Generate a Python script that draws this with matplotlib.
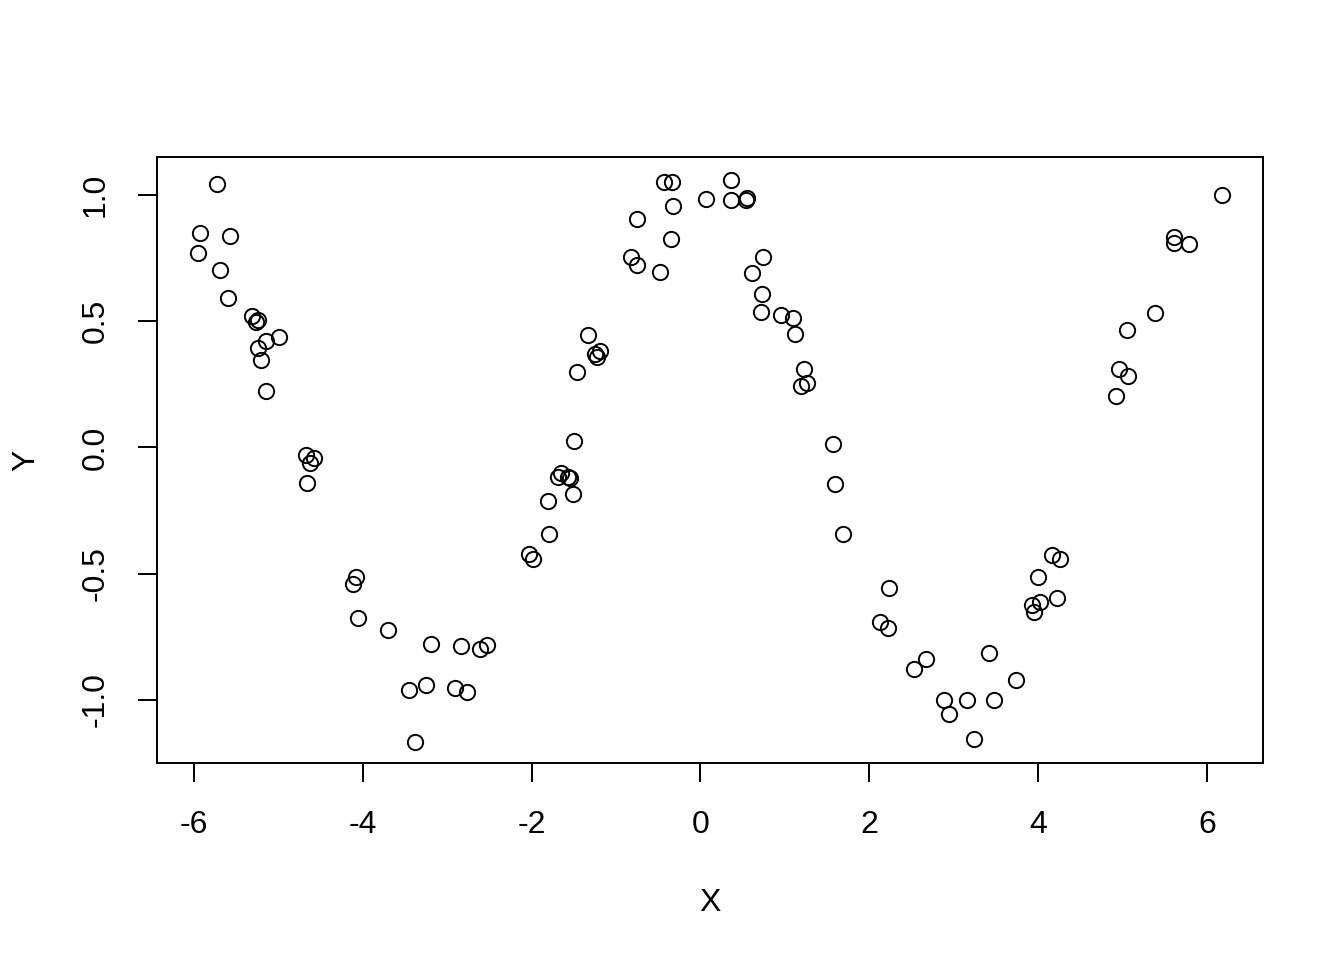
import numpy as np
import matplotlib
matplotlib.use("Agg")
import matplotlib.pyplot as plt

plt.rcParams['font.family'] = ['Liberation Sans', 'DejaVu Sans']

# points
x_vals = [-5.727, -5.929, -5.573, -5.952, -5.692, -5.597, -5.313, -5.265, -5.242,
          -4.992, -5.147, -5.242, -5.206, -5.147, -4.673, -4.578, -4.626, -4.661,
          -4.081, -4.117, -4.057, -3.702, -3.192, -2.837, -2.612, -2.529, -3.453,
          -3.252, -2.908, -2.766, -3.382, -2.032, -1.984, -1.795, -1.806, -1.510,
          -1.652, -1.688, -1.570, -1.546, -1.498, -1.463, -1.333, -1.250, -1.190,
          -1.226, -0.823, -0.752, -0.752, -0.480, -0.432, -0.338, -0.326, -0.349,
          0.065, 0.361, 0.361, 0.551, 0.539, 0.735, 0.610, 0.729, 0.717, 0.954,
          1.096, 1.119, 1.226, 1.262, 1.190, 1.570, 1.593, 1.688, 2.126, 2.233,
          2.221, 2.671, 2.529, 2.884, 2.944, 3.157, 3.240, 3.477, 3.417, 3.737,
          4.164, 4.259, 3.998, 4.022, 4.223, 3.927, 3.950, 4.922, 4.958, 5.064,
          5.052, 5.384, 5.609, 5.609, 5.787, 6.176]
y_vals = [1.044, 0.848, 0.836, 0.769, 0.703, 0.592, 0.521, 0.497, 0.503,
          0.438, 0.422, 0.394, 0.347, 0.224, -0.030, -0.042, -0.061, -0.141,
          -0.513, -0.541, -0.675, -0.723, -0.778, -0.786, -0.798, -0.782, -0.960,
          -0.941, -0.952, -0.968, -1.168, -0.422, -0.442, -0.343, -0.212, -0.184,
          -0.101, -0.117, -0.117, -0.121, 0.026, 0.299, 0.446, 0.370, 0.382,
          0.358, 0.754, 0.723, 0.905, 0.695, 1.051, 1.051, 0.956, 0.826,
          0.984, 1.059, 0.980, 0.988, 0.980, 0.754, 0.691, 0.608, 0.537, 0.525,
          0.513, 0.450, 0.311, 0.255, 0.243, 0.014, -0.145, -0.342, -0.693, -0.557,
          -0.715, -0.838, -0.877, -1.000, -1.055, -1.000, -1.154, -1.000, -0.814, -0.921,
          -0.426, -0.442, -0.513, -0.612, -0.596, -0.624, -0.651, 0.204, 0.311, 0.283,
          0.465, 0.533, 0.834, 0.810, 0.806, 1.000]

x_ticks = [-6, -4, -2, 0, 2, 4, 6]
y_ticks = [-1.0, -0.5, 0.0, 0.5, 1.0]

fig = plt.figure(figsize=(13.44, 9.6), dpi=100)
ax = fig.add_axes([0.1168, 0.2052, 0.8229, 0.6313])

ax.plot(x_vals, y_vals, linestyle='none', marker='o', markersize=11,
        markerfacecolor='none', markeredgecolor='black', markeredgewidth=1.4)

ax.set_xlim(-6.438, 6.663)
ax.set_ylim(-1.2495, 1.150)
ax.set_xticks(x_ticks)
ax.set_xticklabels([str(t) for t in x_ticks])
ax.set_yticks(y_ticks)
ax.set_yticklabels([f"{t:.1f}" for t in y_ticks], rotation=90, va='center')

for s in ax.spines.values():
    s.set_linewidth(1.4)
ax.tick_params(axis='both', direction='out', length=13.5, width=1.4,
               labelsize=23, pad=20)

ax.set_xlabel("X", fontsize=23, labelpad=35)
ax.set_ylabel("Y", fontsize=23, labelpad=28)

fig.savefig("out.png", dpi=100)
